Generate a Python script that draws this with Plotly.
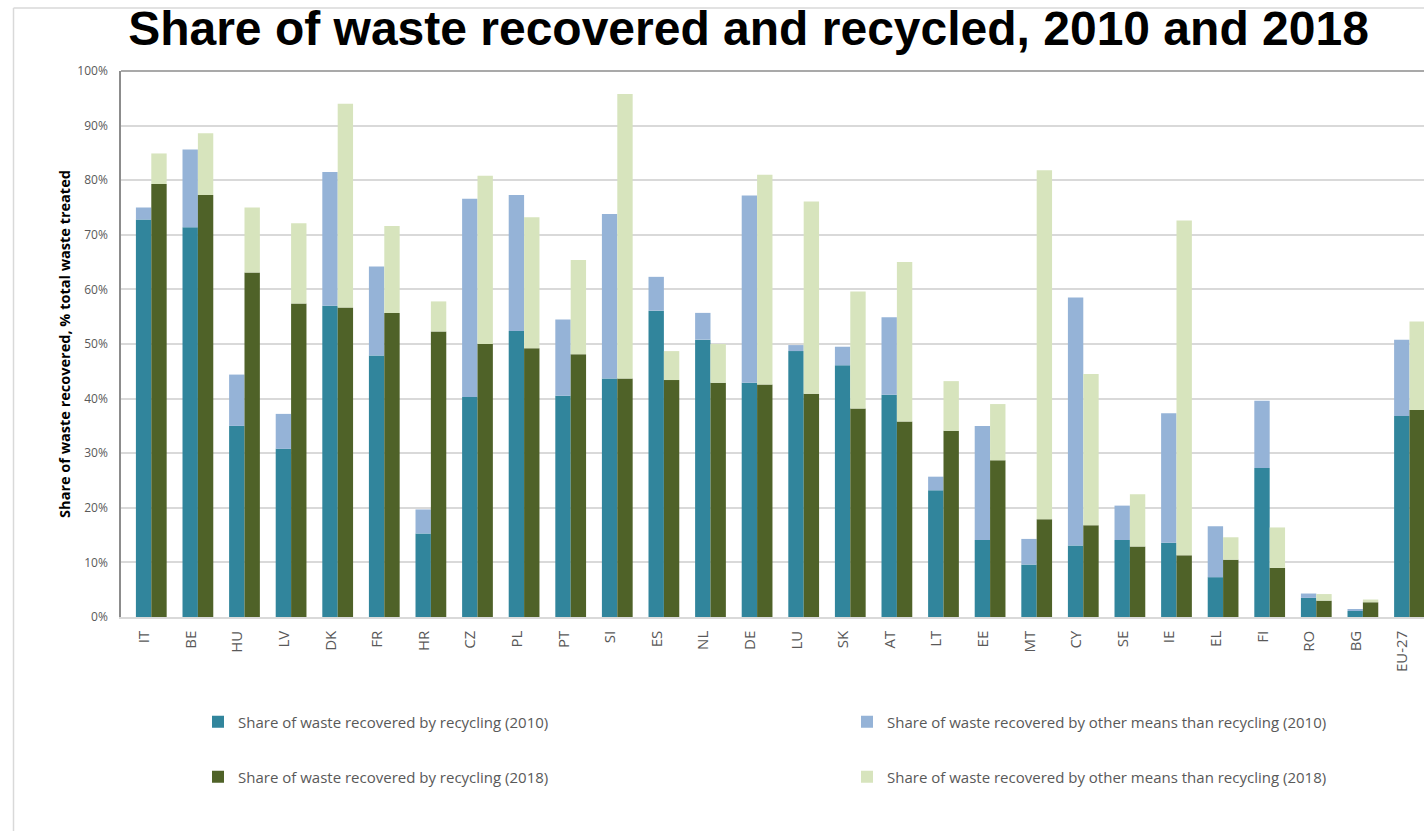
import plotly.graph_objects as go

countries = ["IT", "BE", "HU", "LV", "DK", "FR", "HR", "CZ", "PL", "PT", "SI", "ES", "NL", "DE",
             "LU", "SK", "AT", "LT", "EE", "MT", "CY", "SE", "IE", "EL", "FI", "RO", "BG", "EU-27"]

# Values (%): recycling share and total recovered share
recycling_2010 = [72.8, 71.4, 35.0, 30.8, 57.0, 47.9, 15.3, 40.3, 52.4, 40.5, 43.7, 56.1, 50.8, 42.9,
                  48.7, 46.1, 40.7, 23.2, 14.1, 9.6, 13.1, 14.1, 13.6, 7.3, 27.3, 3.5, 1.1, 36.8]
total_2010 = [75.0, 85.6, 44.4, 37.2, 81.5, 64.2, 19.7, 76.6, 77.3, 54.5, 73.8, 62.3, 55.7, 77.2,
              49.8, 49.5, 54.9, 25.7, 35.0, 14.3, 58.5, 20.4, 37.3, 16.6, 39.6, 4.3, 1.3, 50.8]
recycling_2018 = [79.3, 77.3, 63.1, 57.4, 56.7, 55.7, 52.3, 50.0, 49.2, 48.1, 43.7, 43.4, 42.9, 42.6,
                  40.9, 38.2, 35.8, 34.1, 28.7, 17.9, 16.8, 12.9, 11.3, 10.5, 9.0, 3.0, 2.7, 37.9]
total_2018 = [84.9, 88.6, 75.0, 72.1, 94.0, 71.6, 57.8, 80.8, 73.2, 65.4, 95.8, 48.7, 50.0, 81.0,
              76.1, 59.6, 65.0, 43.2, 39.0, 81.8, 44.5, 22.5, 72.6, 14.6, 16.4, 4.2, 3.2, 54.1]

other_2010 = [round(t - r, 2) for t, r in zip(total_2010, recycling_2010)]
other_2018 = [round(t - r, 2) for t, r in zip(total_2018, recycling_2018)]

names = [
    "Share of waste recovered by recycling (2010)",
    "Share of waste recovered by other means than recycling (2010)",
    "Share of waste recovered by recycling (2018)",
    "Share of waste recovered by other means than recycling (2018)",
]
colors = ["#31859C", "#95B3D7", "#4F6228", "#D7E4BD"]

x = list(range(len(countries)))
W = 0.33
OFF10 = -0.18
OFF18 = 0.15

fig = go.Figure()
fig.add_trace(go.Bar(x=x, y=recycling_2010, base=[0] * len(x), offset=OFF10, width=W,
                     marker=dict(color=colors[0], line=dict(width=0)), name=names[0], legend="legend"))
fig.add_trace(go.Bar(x=x, y=other_2010, base=recycling_2010, offset=OFF10, width=W,
                     marker=dict(color=colors[1], line=dict(width=0)), name=names[1], legend="legend2"))
fig.add_trace(go.Bar(x=x, y=recycling_2018, base=[0] * len(x), offset=OFF18, width=W,
                     marker=dict(color=colors[2], line=dict(width=0)), name=names[2], legend="legend3"))
fig.add_trace(go.Bar(x=x, y=other_2018, base=recycling_2018, offset=OFF18, width=W,
                     marker=dict(color=colors[3], line=dict(width=0)), name=names[3], legend="legend4"))

L, T, B = 121, 71, 617
H, WID = 831, 1424
pw = WID - L
ph = B - T


def px_x(p):
    return (p - L) / pw


def px_y(p):
    return (B - p) / ph


legend_font = dict(family="Open Sans", size=15, color="#595959")
leg_common = dict(xanchor="left", yanchor="middle", bgcolor="rgba(0,0,0,0)", font=legend_font,
                  borderwidth=0, itemclick=False, visible=True)

fig.update_layout(
    width=WID, height=H,
    margin=dict(l=L, r=0, t=T, b=H - B, pad=0),
    paper_bgcolor="white", plot_bgcolor="white",
    barmode="overlay",
    showlegend=True,
    title=dict(text="Share of waste recovered and recycled, 2010 and 2018",
               font=dict(family="Liberation Sans", size=48, color="black", weight="bold"),
               x=748.5 / WID, xanchor="center", xref="container",
               y=1 - 28 / H, yanchor="middle", yref="container"),
    xaxis=dict(range=[-0.5, -0.5 + pw / 46.6], tickmode="array", tickvals=x, ticktext=countries,
               tickangle=-90, tickfont=dict(family="Open Sans", size=15, color="#595959"),
               showline=True, linecolor="#D9D9D9", linewidth=1.5, showgrid=False,
               ticks="", zeroline=False, fixedrange=True, ticklabelstandoff=6),
    yaxis=dict(range=[0, 100], dtick=10, ticksuffix="%",
               tickfont=dict(family="Open Sans", size=12, color="#595959"),
               showline=True, linecolor="#8C8C8C", linewidth=1.5,
               gridcolor="#D9D9D9", gridwidth=1.5, zeroline=False, ticks="",
               ticklabelstandoff=9,
               title=dict(text="Share of waste recovered, % total waste treated",
                          font=dict(family="Open Sans", size=14.5, color="black", weight="bold"),
                          standoff=3),
               fixedrange=True),
    legend=dict(x=px_x(198), y=px_y(722), **leg_common),
    legend2=dict(x=px_x(847), y=px_y(722), **leg_common),
    legend3=dict(x=px_x(198), y=px_y(777), **leg_common),
    legend4=dict(x=px_x(847), y=px_y(777), **leg_common),
    shapes=[
        # top border of plot area
        dict(type="line", xref="paper", yref="paper", x0=0, x1=1, y0=1, y1=1,
             line=dict(color="#8C8C8C", width=1.5)),
        # outer chart frame (top and left edges)
        dict(type="line", xref="paper", yref="paper", x0=px_x(13.5), x1=1.01, y0=px_y(8), y1=px_y(8),
             line=dict(color="#D9D9D9", width=1.5)),
        dict(type="line", xref="paper", yref="paper", x0=px_x(13.5), x1=px_x(13.5), y0=px_y(8),
             y1=px_y(840), line=dict(color="#D9D9D9", width=1.5)),
    ],
)

fig.write_html("out.html")
